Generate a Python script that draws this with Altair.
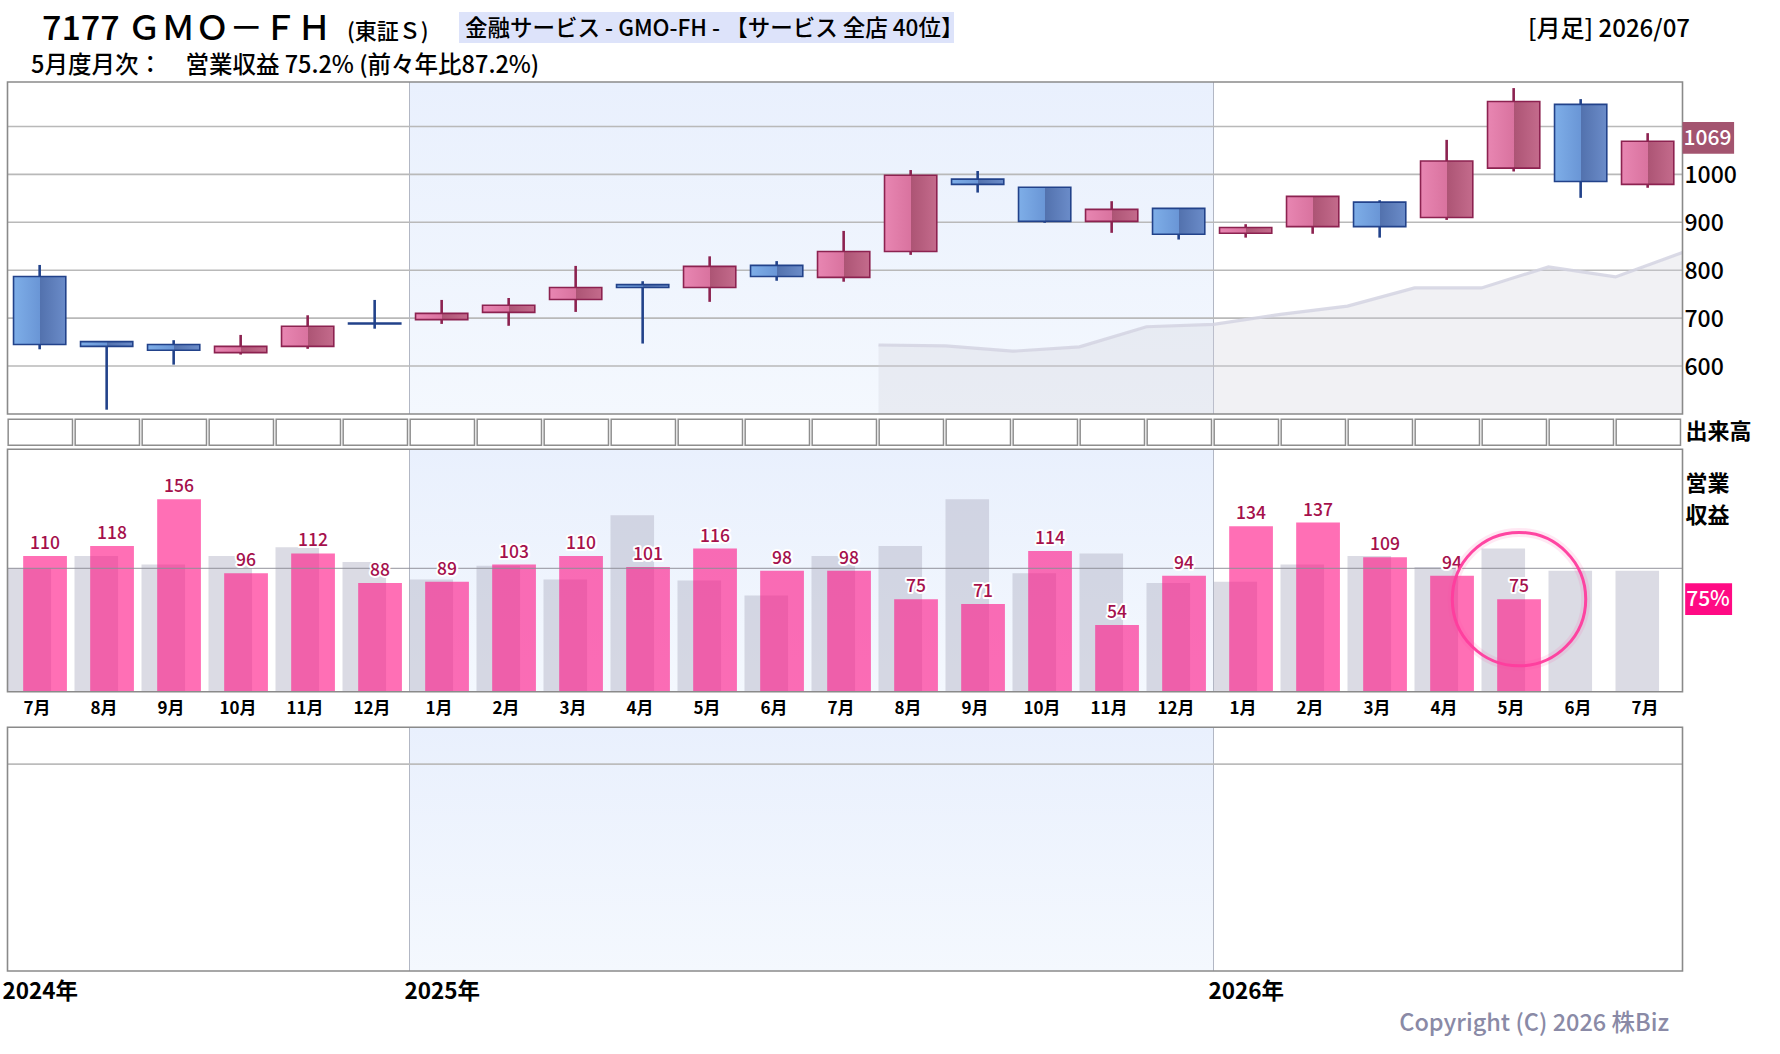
import altair as alt
import pandas as pd

FONT = "Noto Sans CJK JP"

# ---------------- data ----------------
months = ["7月", "8月", "9月", "10月", "11月", "12月", "1月", "2月", "3月", "4月", "5月", "6月",
          "7月", "8月", "9月", "10月", "11月", "12月", "1月", "2月", "3月", "4月", "5月", "6月", "7月"]
opens = [787, 651, 645, 628, 641, 690, 697, 712, 739, 770, 764, 810,
         785, 839, 990, 973, 902, 929, 877, 891, 942, 910, 1013, 1146, 979]
highs = [811, 651, 654, 665, 706, 738, 738, 742, 809, 777, 829, 819,
         882, 1009, 1007, 973, 944, 929, 896, 954, 946, 1072, 1180, 1157, 1086]
lows = [635, 509, 603, 624, 636, 678, 688, 684, 713, 647, 734, 778,
        776, 832, 962, 899, 878, 864, 868, 876, 868, 905, 1006, 951, 972]
closes = [645, 641, 633, 641, 683, 688, 710, 727, 764, 764, 808, 787,
          839, 998, 979, 902, 927, 875, 889, 954, 891, 1028, 1152, 985, 1069]
# moving-average line (first point at the start of 2025/8)
ma_start = 13
ma_values = [644, 642, 631, 640, 682, 687, 708, 725, 763, 763, 807, 786, 837]
# monthly revenue % (current) and previous-year %
rev_cur = [110, 118, 156, 96, 112, 88, 89, 103, 110, 101, 116, 98,
           98, 75, 71, 114, 54, 94, 134, 137, 109, 94, 75]
rev_prev = [100, 110, 103, 110, 117, 105, 91, 102, 91, 143, 90, 78,
            110, 118, 156, 96, 112, 88, 89, 103, 110, 101, 116, 98, 98]
price_ticks = [600, 700, 800, 900, 1000]
price_grid = [600, 700, 800, 900, 1000, 1100]
year_labels = ["2024年", "2025年", "2026年"]
year_slots = [0, 6, 18]
last_price = 1069

N = len(months)

# ---------------- scales ----------------
X = alt.Scale(domain=[0, N], range=[7.5, 1682.5], nice=False, zero=False)


def ysc(d, r):
    return alt.Scale(domain=d, range=r, nice=False, zero=False)


Y_C = ysc([500, 1192.7], [414, 82])      # candle panel
Y_V = ysc([0, 1], [445.3, 419.3])        # volume row
Y_R = ysc([0, 196.4], [691.7, 449.3])    # revenue panel
Y_B = ysc([0, 1], [971, 727.3])          # empty bottom panel


def xf(f):
    return alt.X(f"{f}:Q", scale=X, axis=None)


def yf(f, s):
    return alt.Y(f"{f}:Q", scale=s, axis=None)


def grad_h(stops):
    return alt.LinearGradient(gradient="linear",
                              stops=[alt.GradientStop(color=c, offset=o) for o, c in stops],
                              x1=0, x2=1, y1=0, y2=0)


shade_fill = alt.LinearGradient(gradient="linear",
                                stops=[alt.GradientStop(color="#e9f0fd", offset=0),
                                       alt.GradientStop(color="#f4f8fe", offset=1)],
                                x1=0, x2=0, y1=0, y2=1)

layers = []


def panel_bg(lo, hi, scale):
    df = pd.DataFrame({"x0": [year_slots[1]], "x1": [year_slots[2]], "lo": [lo], "hi": [hi]})
    shade = alt.Chart(df).mark_rect(fill=shade_fill).encode(
        x=xf("x0"), x2="x1:Q", y=yf("lo", scale), y2="hi:Q")
    dfl = pd.DataFrame({"x": year_slots[1:], "lo": lo, "hi": hi})
    vl = alt.Chart(dfl).mark_rule(color="#b2b7c4", strokeWidth=1).encode(
        x=xf("x"), y=yf("lo", scale), y2="hi:Q")
    return [shade, vl]


def panel_frame(lo, hi, scale):
    df = pd.DataFrame({"x0": [0], "x1": [N], "lo": [lo], "hi": [hi]})
    return alt.Chart(df).mark_rect(fillOpacity=0, stroke="#8a8a8a", strokeWidth=1.6).encode(
        x=xf("x0"), x2="x1:Q", y=yf("lo", scale), y2="hi:Q")


def hlines(values, scale, color, width, opacity=1.0):
    df = pd.DataFrame({"v": values, "x0": 0, "x1": N})
    return alt.Chart(df).mark_rule(color=color, strokeWidth=width, opacity=opacity).encode(
        x=xf("x0"), x2="x1:Q", y=yf("v", scale))


# ---------------- candle panel ----------------
layers += panel_bg(500, 1192.7, Y_C)
layers.append(hlines(price_grid, Y_C, "#b9b9b9", 1.6))

ma_df = pd.DataFrame({"x": [ma_start + k for k in range(len(ma_values))], "v": ma_values, "base": 500})
layers.append(alt.Chart(ma_df).mark_area(color="#d2d2da", opacity=0.3).encode(
    x=xf("x"), y=yf("v", Y_C), y2="base:Q"))
layers.append(alt.Chart(ma_df).mark_line(color="#d3d3e2", strokeWidth=3.2, opacity=0.85).encode(
    x=xf("x"), y=yf("v", Y_C)))

cdf = pd.DataFrame({"i": list(range(N)), "open": opens, "close": closes, "high": highs, "low": lows})
cdf["up"] = cdf["close"] >= cdf["open"]
cdf["b0"] = cdf["i"] + 0.09
cdf["b1"] = cdf["i"] + 0.87
cdf["w"] = cdf["i"] + 0.48
cdf["top"] = cdf[["open", "close"]].max(axis=1)
cdf["bot"] = cdf[["open", "close"]].min(axis=1)

layers.append(alt.Chart(cdf).mark_rule(strokeWidth=2.6).encode(
    x=xf("w"), y=yf("low", Y_C), y2="high:Q",
    color=alt.condition("datum.up", alt.value("#8c2250"), alt.value("#22428a"))))

pink_grad = grad_h([(0, "#e886b2"), (0.5, "#d9739f"), (0.5, "#ac5474"), (1, "#c46b8c")])
blue_grad = grad_h([(0, "#7eaee8"), (0.5, "#6a96d6"), (0.5, "#5271ad"), (1, "#6b8cc9")])
layers.append(alt.Chart(cdf).transform_filter("datum.up").mark_rect(
    fill=pink_grad, stroke="#8c2250", strokeWidth=1.6).encode(
    x=xf("b0"), x2="b1:Q", y=yf("bot", Y_C), y2="top:Q"))
layers.append(alt.Chart(cdf).transform_filter("!datum.up").mark_rect(
    fill=blue_grad, stroke="#22428a", strokeWidth=1.6).encode(
    x=xf("b0"), x2="b1:Q", y=yf("bot", Y_C), y2="top:Q"))

layers.append(panel_frame(500, 1192.7, Y_C))

# price labels
pt_df = pd.DataFrame({"v": price_ticks, "x": N})
layers.append(alt.Chart(pt_df).mark_text(align="left", baseline="middle", dx=2, dy=2, fontSize=23,
                                         font=FONT, fontWeight=500, color="#000000").encode(
    x=xf("x"), y=yf("v", Y_C), text=alt.Text("v:Q", format="d")))

lp_df = pd.DataFrame({"x0": [N], "x1": [N + 0.77], "lo": [last_price - 26], "hi": [last_price + 40],
                      "c": [last_price + 7], "t": [str(last_price)]})
layers.append(alt.Chart(lp_df).mark_rect(color="#a3546f").encode(
    x=xf("x0"), x2="x1:Q", y=yf("lo", Y_C), y2="hi:Q"))
layers.append(alt.Chart(lp_df).mark_text(align="left", baseline="middle", dx=1, dy=1, fontSize=21,
                                         font=FONT, fontWeight=500, color="#ffffff").encode(
    x=xf("x0"), y=yf("c", Y_C), text="t:N"))

# ---------------- volume row ----------------
vdf = pd.DataFrame({"x0": [i + 0.01 for i in range(N)], "x1": [i + 0.97 for i in range(N)],
                    "lo": 0, "hi": 1})
layers.append(alt.Chart(vdf).mark_rect(fill="#ffffff", stroke="#8e8e8e", strokeWidth=1.5).encode(
    x=xf("x0"), x2="x1:Q", y=yf("lo", Y_V), y2="hi:Q"))
vl_df = pd.DataFrame({"x": [N], "v": [0.5], "t": ["出来高"]})
layers.append(alt.Chart(vl_df).mark_text(align="left", baseline="middle", dx=3, fontSize=22,
                                         font=FONT, fontWeight="bold", color="#000000").encode(
    x=xf("x"), y=yf("v", Y_V), text="t:N"))

# ---------------- revenue panel ----------------
layers += panel_bg(0, 196.4, Y_R)
pdf = pd.DataFrame({"x0": [float(i) for i in range(N)], "x1": [i + 0.65 for i in range(N)],
                    "v": rev_prev, "z": 0})
layers.append(alt.Chart(pdf).mark_rect(color="#b3b3c6", opacity=0.47).encode(
    x=xf("x0"), x2="x1:Q", y=yf("v", Y_R), y2="z:Q"))
rdf = pd.DataFrame({"x0": [i + 0.234 for i in range(len(rev_cur))],
                    "x1": [i + 0.887 for i in range(len(rev_cur))],
                    "xc": [i + 0.56 for i in range(len(rev_cur))],
                    "v": rev_cur, "z": 0})
layers.append(alt.Chart(rdf).mark_rect(color="#ff0f84", opacity=0.6).encode(
    x=xf("x0"), x2="x1:Q", y=yf("v", Y_R), y2="z:Q"))
layers.append(hlines([100], Y_R, "#8c8c96", 1.2, 0.75))
layers.append(alt.Chart(rdf).mark_text(baseline="bottom", dy=-3, fontSize=17.5, font=FONT,
                                       fontWeight=500, color="#ffffff", stroke="#ffffff",
                                       strokeWidth=4, strokeJoin="round").encode(
    x=xf("xc"), y=yf("v", Y_R), text=alt.Text("v:Q", format="d")))
layers.append(alt.Chart(rdf).mark_text(baseline="bottom", dy=-3, fontSize=17.5, font=FONT,
                                       fontWeight=500, color="#a5104c").encode(
    x=xf("xc"), y=yf("v", Y_R), text=alt.Text("v:Q", format="d")))

# highlight circle on the latest month
hl = rdf.tail(1)
layers.append(alt.Chart(hl).mark_point(shape="circle", filled=False, size=17800,
                                       stroke="#ff4aa5", strokeWidth=9, opacity=0.12).encode(
    x=xf("xc"), y=yf("v", Y_R)))
layers.append(alt.Chart(hl).mark_point(shape="circle", filled=False, size=17800,
                                       stroke="#ff3d9e", strokeWidth=3, opacity=0.95).encode(
    x=xf("xc"), y=yf("v", Y_R)))

layers.append(panel_frame(0, 196.4, Y_R))

pct_df = pd.DataFrame({"x0": [N + 0.04], "x1": [N + 0.74], "lo": [rev_cur[-1] - 12.9],
                       "hi": [rev_cur[-1] + 12.9], "v": [rev_cur[-1]], "t": [f"{rev_cur[-1]}%"]})
layers.append(alt.Chart(pct_df).mark_rect(color="#ff0a84").encode(
    x=xf("x0"), x2="x1:Q", y=yf("lo", Y_R), y2="hi:Q"))
layers.append(alt.Chart(pct_df).mark_text(align="left", baseline="middle", dx=1, dy=1, fontSize=21,
                                          font=FONT, fontWeight=500, color="#ffffff").encode(
    x=xf("x0"), y=yf("v", Y_R), text="t:N"))
rl_df = pd.DataFrame({"x": [N, N], "v": [168, 142], "t": ["営業", "収益"]})
layers.append(alt.Chart(rl_df).mark_text(align="left", baseline="middle", dx=3, fontSize=22,
                                         font=FONT, fontWeight="bold", color="#000000").encode(
    x=xf("x"), y=yf("v", Y_R), text="t:N"))

# month labels
mdf = pd.DataFrame({"x": [i + 0.44 for i in range(N)], "t": months})
layers.append(alt.Chart(mdf).mark_text(baseline="middle", fontSize=17, font=FONT,
                                       fontWeight="bold", color="#000000").encode(
    x=xf("x"), y=alt.value(709), text="t:N"))

# ---------------- bottom panel ----------------
layers += panel_bg(0, 1, Y_B)
layers.append(hlines([0.849], Y_B, "#bcbcbc", 1.6))
layers.append(panel_frame(0, 1, Y_B))
ydf = pd.DataFrame({"x": year_slots, "t": year_labels})
layers.append(alt.Chart(ydf).mark_text(align="left", baseline="middle", dx=-5, fontSize=22.5,
                                       font=FONT, fontWeight="bold", color="#000000").encode(
    x=xf("x"), y=alt.value(992), text="t:N"))

# ---------------- header / footer text ----------------
one = pd.DataFrame({"a": [0]})


def label(text, x, y, size, align="left", color="#000000", weight=500):
    return alt.Chart(one).mark_text(align=align, baseline="middle", fontSize=size, font=FONT,
                                    color=color, fontWeight=weight).encode(
        x=alt.value(x), y=alt.value(y), text=alt.value(text))


layers.append(alt.Chart(one).mark_rect(color="#dde3fa").encode(
    x=alt.value(459), x2=alt.value(954), y=alt.value(12), y2=alt.value(43)))
layers.append(label("7177 ＧＭＯ－ＦＨ", 42, 30, 34))
layers.append(label("(東証Ｓ)", 347, 32, 22))
layers.append(label("金融サービス - GMO-FH - 【サービス 全店 40位】", 465, 29, 22.5))
layers.append(label("[月足] 2026/07", 1690, 30, 24, align="right"))
layers.append(label("5月度月次：　営業収益 75.2% (前々年比87.2%)", 31, 66, 23.5))
layers.append(label("Copyright (C) 2026 株Biz", 1669, 1024, 23.5, align="right", color="#8a8aa6"))

chart = alt.layer(*layers).resolve_scale(y="independent").properties(
    width=1780, height=1054, padding=0, background="#ffffff",
    autosize=alt.AutoSizeParams(type="none"),
).configure_view(stroke=None)

chart.save("out.html", embed_options={"renderer": "svg", "actions": False})
